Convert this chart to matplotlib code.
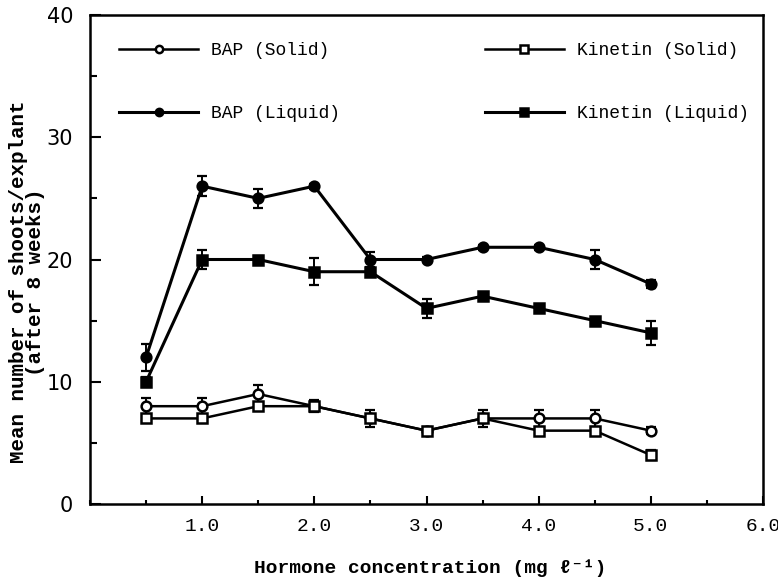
import matplotlib
matplotlib.use('Agg')
import matplotlib.pyplot as plt
from matplotlib.ticker import MultipleLocator

# hormone concentration (mg/l)
conc = [0.5, 1.0, 1.5, 2.0, 2.5, 3.0, 3.5, 4.0, 4.5, 5.0]

bap_solid = [8, 8, 9, 8, 7, 6, 7, 7, 7, 6]
bap_solid_err = [0.7, 0.7, 0.7, 0.5, 0.7, 0.3, 0.7, 0.7, 0.7, 0.3]
kin_solid = [7, 7, 8, 8, 7, 6, 7, 6, 6, 4]
kin_solid_err = [0.3, 0.3, 0.3, 0.3, 0.3, 0.3, 0.3, 0.3, 0.3, 0.4]
bap_liquid = [12, 26, 25, 26, 20, 20, 21, 21, 20, 18]
bap_liquid_err = [1.1, 0.8, 0.8, 0.2, 0.6, 0.2, 0.2, 0.2, 0.8, 0.3]
kin_liquid = [10, 20, 20, 19, 19, 16, 17, 16, 15, 14]
kin_liquid_err = [0.4, 0.8, 0.3, 1.1, 0.3, 0.8, 0.3, 0.2, 0.2, 1.0]

mono = ['Liberation Mono', 'DejaVu Sans Mono', 'DejaVu Sans']

fig = plt.figure(figsize=(7.78, 5.81), dpi=100)
ax = fig.add_axes([90/778, 1 - 504/581, 673/778, 489/581])

series = [
    (bap_solid, bap_solid_err, 'o', 'white', 1.8, 'BAP (Solid)'),
    (bap_liquid, bap_liquid_err, 'o', 'black', 2.2, 'BAP (Liquid)'),
    (kin_solid, kin_solid_err, 's', 'white', 1.8, 'Kinetin (Solid)'),
    (kin_liquid, kin_liquid_err, 's', 'black', 2.2, 'Kinetin (Liquid)'),
]
for vals, err, mk, fc, lw, lab in series:
    ax.errorbar(conc, vals, yerr=err, fmt='none', ecolor='black', capsize=3.5,
                elinewidth=1.4, capthick=1.6)
    ax.plot(conc, vals, color='black', lw=lw, marker=mk, ms=7, mfc=fc, mec='black',
            mew=1.8, label=lab)

ax.set_xlim(0, 6)
ax.set_ylim(0, 40)
ax.set_xticks([1, 2, 3, 4, 5, 6])
ax.set_xticklabels(['1.0', '2.0', '3.0', '4.0', '5.0', '6.0'], family=mono, fontsize=14)
ax.xaxis.set_minor_locator(MultipleLocator(0.5))
ax.yaxis.set_major_locator(MultipleLocator(10))
ax.yaxis.set_minor_locator(MultipleLocator(5))
ax.tick_params(axis='y', which='major', direction='in', length=8, width=1.5, labelsize=15, pad=12)
ax.tick_params(axis='y', which='minor', direction='in', length=5, width=1.5)
ax.tick_params(axis='x', which='major', direction='in', length=6, width=1.5, pad=10)
ax.tick_params(axis='x', which='minor', direction='in', length=3, width=1.5)
for s in ax.spines.values():
    s.set_linewidth(1.8)

leg = ax.legend(ncol=2, loc='upper left', bbox_to_anchor=(119/778, 1 - 42/581),
                bbox_transform=fig.transFigure, frameon=False, prop={'family': mono, 'size': 13},
                handlelength=4.4, handletextpad=0.7, columnspacing=8.0, labelspacing=2.55,
                markerscale=0.75, borderpad=0, borderaxespad=0)

fig.text(27/778, 1 - 282/581, 'Mean number of shoots/explant\n(after 8 weeks)', rotation=90,
         ha='center', va='center', family=mono, fontsize=15, fontweight='bold', linespacing=0.85)
fig.text(430/778, 1 - 568/581, 'Hormone concentration (mg \u2113\u207b\u00b9)', ha='center', va='center',
         family=mono, fontsize=14, fontweight='bold')

fig.savefig('out.png', dpi=100)
